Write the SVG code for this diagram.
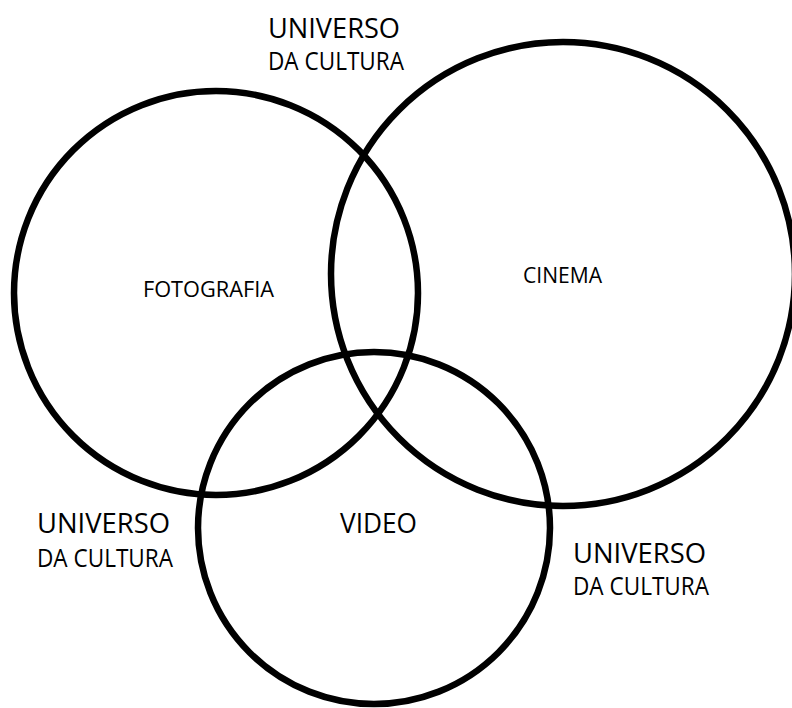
<svg xmlns="http://www.w3.org/2000/svg" width="792" height="708" viewBox="0 0 792 708">
<style>
.c{fill:none;stroke:#000;stroke-width:6.5}
text{font-family:"Open Sans","Liberation Sans",sans-serif;fill:#000}
.u{font-size:28px}
.d{font-size:25px}
.l{font-size:21px}
.v{font-size:27px}
</style>
<rect width="792" height="708" fill="#fff"/>
<g id="fotografia">
<circle class="c" cx="216" cy="293" r="202"/>
<text class="l" x="143" y="297" textLength="131" lengthAdjust="spacingAndGlyphs">FOTOGRAFIA</text>
</g>
<g id="cinema">
<circle class="c" cx="563" cy="274" r="232"/>
<text class="l" x="523" y="283" textLength="79" lengthAdjust="spacingAndGlyphs">CINEMA</text>
</g>
<g id="video">
<circle class="c" cx="374" cy="528" r="176"/>
<text class="v" x="340" y="533" textLength="77" lengthAdjust="spacingAndGlyphs">VIDEO</text>
</g>
<g id="universo-top">
<text class="u" x="268" y="38" textLength="132" lengthAdjust="spacingAndGlyphs">UNIVERSO</text>
<text class="d" x="268" y="70" textLength="136" lengthAdjust="spacingAndGlyphs">DA CULTURA</text>
</g>
<g id="universo-left">
<text class="u" x="37" y="533" textLength="133" lengthAdjust="spacingAndGlyphs">UNIVERSO</text>
<text class="d" x="37" y="567" textLength="136" lengthAdjust="spacingAndGlyphs">DA CULTURA</text>
</g>
<g id="universo-right">
<text class="u" x="573" y="563" textLength="133" lengthAdjust="spacingAndGlyphs">UNIVERSO</text>
<text class="d" x="573" y="595" textLength="136" lengthAdjust="spacingAndGlyphs">DA CULTURA</text>
</g>
<g id="connectors"/>
</svg>
